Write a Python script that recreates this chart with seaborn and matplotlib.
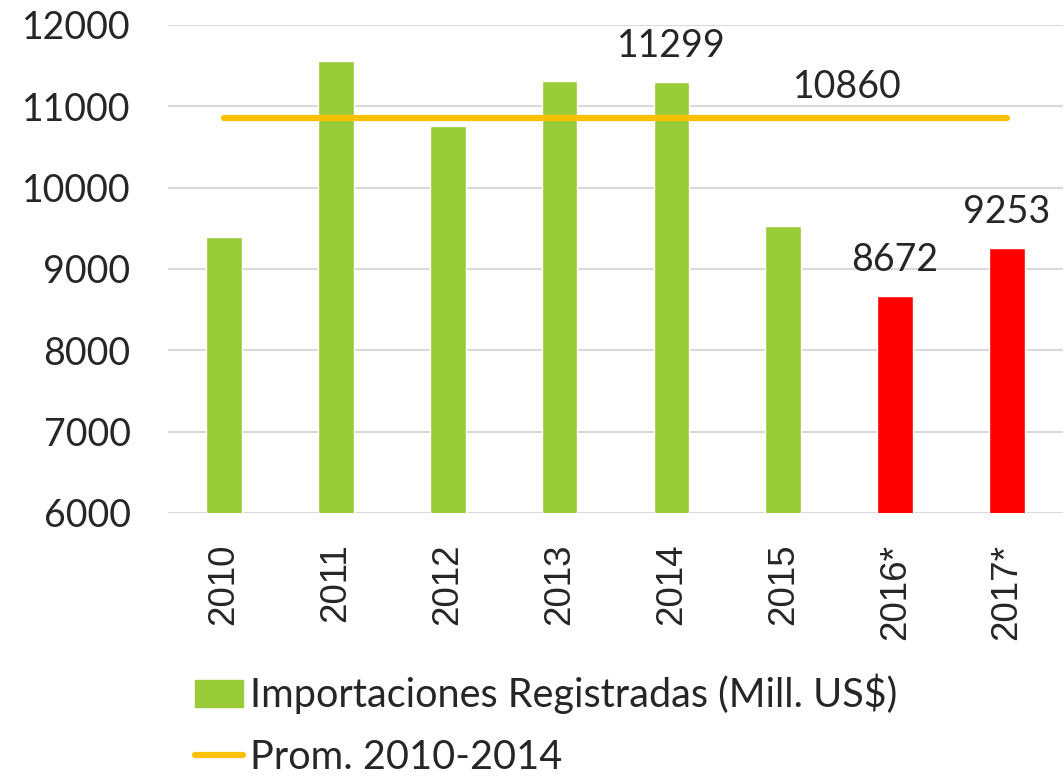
import numpy as np
import matplotlib
matplotlib.use("Agg")
import matplotlib.pyplot as plt
import seaborn as sns
from matplotlib.patches import Patch
from matplotlib.lines import Line2D

# Datos
anios = ["2010", "2011", "2012", "2013", "2014", "2015", "2016*", "2017*"]
importaciones = [9390, 11560, 10760, 11310, 11299, 9530, 8672, 9253]
colores = ["#9ACB38"] * 6 + ["#FF0000"] * 2
promedio = 10860
etiquetas = {4: "11299", 6: "8672", 7: "9253"}

sns.set_style("white")
plt.rcParams["font.family"] = ["Lato", "DejaVu Sans"]

fig = plt.figure(figsize=(10.64, 7.79), dpi=100)
ax = fig.add_axes([0.158, 0.3415, 0.841, 0.6265])

sns.barplot(x=anios, y=importaciones, hue=anios, palette=colores,
            legend=False, width=0.32, saturation=1, ax=ax)

pos = np.arange(len(anios))
sns.lineplot(x=pos, y=[promedio] * len(anios), color="#FFC000", linewidth=4.5,
             solid_capstyle="round", ax=ax)

# etiquetas de datos
for i, txt in etiquetas.items():
    ax.annotate(txt, (i, importaciones[i]), xytext=(0, 13), textcoords="offset points",
                ha="center", va="bottom", fontsize=27)
ax.annotate(str(promedio), (5.57, promedio), xytext=(0, 9), textcoords="offset points",
            ha="center", va="bottom", fontsize=27)

ax.set_ylim(6000, 12000)
ax.set_xlim(-0.5, 7.5)
ax.set_yticks(range(6000, 12001, 1000))
ax.yaxis.grid(True, color="#D9D9D9", linewidth=1.5)
ax.set_axisbelow(True)
for s in ax.spines.values():
    s.set_visible(False)
ax.tick_params(axis="y", labelsize=27, length=0, pad=27)
ax.tick_params(axis="x", length=0, pad=22, labelrotation=90,
               labelsize=26.5, labelfontfamily="Liberation Sans")

handles = [Patch(color="#9ACB38"),
           Line2D([0], [0], color="#FFC000", linewidth=4.5, solid_capstyle="round")]
fig.legend(handles, ["Importaciones Registradas (Mill. US$)", "Prom. 2010-2014"],
           loc="upper left", bbox_to_anchor=(0.1835, 0.135), bbox_transform=fig.transFigure,
           frameon=False, fontsize=28.5, handlelength=1.21, handletextpad=0.18,
           labelspacing=0.62, borderaxespad=0, borderpad=0)

fig.savefig("out.png", dpi=100)
